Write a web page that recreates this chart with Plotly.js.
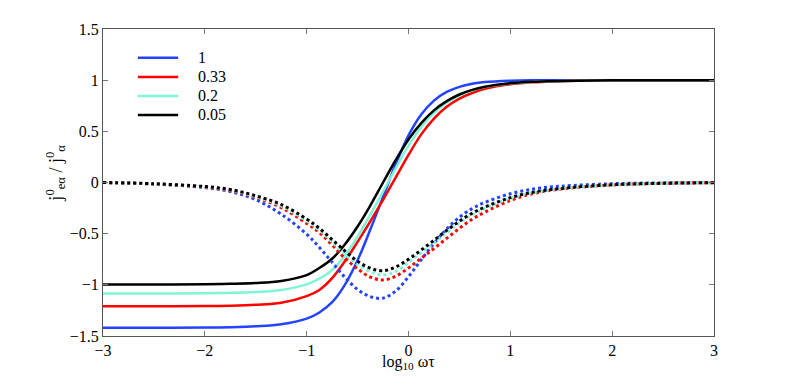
<!DOCTYPE html>
<html>
<head>
<meta charset="utf-8">
<script src="https://cdn.plot.ly/plotly-3.0.1.min.js"></script>
<style>
	body { margin: 0; background: #fff; }
	#chart { width: 789px; height: 378px; }
</style>
</head>
<body>
<div id="chart"></div>
<script>
// log10 of omega*tau, shared by every curve
var logWT = [ -3, -2.5, -2, -1.75, -1.5, -1.25, -1, -0.875, -0.75, -0.625, -0.5, -0.375, -0.25, -0.125,
	0, 0.125, 0.25, 0.375, 0.5, 0.625, 0.75, 1, 1.25, 1.5, 2, 2.5, 3 ];

// legend labels, same order as the series below
var ratios = [ "1", "0.33", "0.2", "0.05" ];

// solid curves
var solid1    = [ -1.42, -1.42, -1.418, -1.414, -1.405, -1.385, -1.33, -1.27, -1.17, -1.0, -0.76, -0.46, -0.14, 0.18,
	0.46, 0.665, 0.8, 0.885, 0.935, 0.965, 0.982, 0.995, 0.999, 1, 1, 1, 1 ];
var solid033  = [ -1.21, -1.21, -1.208, -1.204, -1.195, -1.175, -1.11, -1.05, -0.935, -0.77, -0.58, -0.38, -0.17, 0.05,
	0.27, 0.47, 0.625, 0.74, 0.82, 0.875, 0.915, 0.96, 0.98, 0.99, 0.998, 1, 1 ];
var solid02   = [ -1.084, -1.084, -1.082, -1.078, -1.07, -1.05, -0.995, -0.94, -0.855, -0.715, -0.53, -0.315, -0.09, 0.14,
	0.36, 0.54, 0.68, 0.78, 0.85, 0.9, 0.932, 0.968, 0.984, 0.992, 0.998, 1, 1 ];
var solid005  = [ -0.996, -0.996, -0.994, -0.99, -0.982, -0.962, -0.905, -0.835, -0.745, -0.605, -0.43, -0.225, 0.0, 0.22,
	0.42, 0.58, 0.705, 0.795, 0.86, 0.905, 0.935, 0.97, 0.985, 0.993, 0.998, 1, 1 ];

// dotted curves
var dotted1   = [ 0, -0.015, -0.05, -0.088, -0.168, -0.31, -0.505, -0.635, -0.78, -0.925, -1.045, -1.115, -1.13, -1.06,
	-0.92, -0.755, -0.595, -0.455, -0.34, -0.255, -0.195, -0.11, -0.06, -0.036, -0.012, -0.004, -0.001 ];
var dotted033 = [ 0, -0.014, -0.045, -0.077, -0.145, -0.245, -0.40, -0.49, -0.61, -0.74, -0.843, -0.925, -0.952, -0.915,
	-0.835, -0.74, -0.645, -0.545, -0.448, -0.36, -0.29, -0.175, -0.102, -0.063, -0.024, -0.008, -0.002 ];
var dotted02  = [ 0, -0.013, -0.042, -0.072, -0.138, -0.228, -0.375, -0.465, -0.58, -0.70, -0.80, -0.872, -0.903, -0.87,
	-0.78, -0.685, -0.59, -0.49, -0.395, -0.315, -0.252, -0.155, -0.094, -0.06, -0.023, -0.008, -0.002 ];
var dotted005 = [ 0, -0.012, -0.04, -0.068, -0.13, -0.215, -0.357, -0.448, -0.558, -0.668, -0.77, -0.838, -0.862, -0.825,
	-0.75, -0.66, -0.565, -0.468, -0.378, -0.30, -0.24, -0.148, -0.09, -0.058, -0.022, -0.008, -0.002 ];

var colors = [ "#2443ff", "#ff0000", "#7ff5d6", "#000000" ];
var solidSets  = [ solid1, solid033, solid02, solid005 ];
var dottedSets = [ dotted1, dotted033, dotted02, dotted005 ];

// a fresh font object each time
function serifFont( size )
{
	return { family: "Liberation Serif", size: size, color: "#000" };
}

var traces = [];
for( let i = 0; i < ratios.length; i++ )
	traces.push( { x: logWT, y: solidSets[ i ], name: ratios[ i ], mode: "lines", showlegend: false,
		line: { color: colors[ i ], width: 2.5, shape: "spline", smoothing: 1 } } );
for( let i = 0; i < ratios.length; i++ )
	traces.push( { x: logWT, y: dottedSets[ i ], name: ratios[ i ], mode: "lines", showlegend: false,
		line: { color: colors[ i ], width: 3, dash: "3px,3px", shape: "spline", smoothing: 1 } } );

// legend drawn by hand so the rows sit as tight as the original
var legendShapes = [], notes = [];
var legTop = 0.906, legStep = 0.062;
for( let i = 0; i < ratios.length; i++ )
{
	let yy = legTop - i * legStep;
	legendShapes.push( { type: "line", xref: "paper", yref: "paper", x0: 0.057, x1: 0.123, y0: yy, y1: yy,
		line: { color: colors[ i ], width: 2.5 } } );
	notes.push( { xref: "paper", yref: "paper", x: 0.152, y: yy, xanchor: "left", yanchor: "middle",
		text: ratios[ i ], showarrow: false, font: serifFont( 16 ) } );
}

// axis titles placed as notes, plotly's own spot sits a bit too far out
notes.push( { xref: "paper", yref: "paper", x: 0.5, y: -0.085, xanchor: "center", yanchor: "middle",
	text: "log<sub>10</sub> ωτ", showarrow: false, font: serifFont( 16 ) } );
notes.push( { xref: "paper", yref: "paper", x: -0.078, y: 0.53, xanchor: "center", yanchor: "middle", textangle: -90,
	text: "j<sup>0</sup><sub>eα</sub> / j<sup>0</sup><sub>α</sub>", showarrow: false, font: serifFont( 18 ) } );

var layout = {
	width: 789,
	height: 378,
	margin: { l: 103, r: 75, t: 29, b: 42 },
	paper_bgcolor: "#fff",
	plot_bgcolor: "#fff",
	font: serifFont( 16 ),
	showlegend: false,
	shapes: legendShapes,
	annotations: notes,
	xaxis: {
		range: [ -3, 3 ],
		dtick: 1,
		ticks: "inside",
		ticklen: 5,
		tickcolor: "#777",
		showgrid: false,
		zeroline: false,
		showline: true,
		linecolor: "#555",
		linewidth: 1,
		mirror: "ticks",
		tickfont: serifFont( 16 )
	},
	yaxis: {
		range: [ -1.5, 1.5 ],
		dtick: 0.5,
		ticks: "inside",
		ticklen: 5,
		tickcolor: "#777",
		showgrid: false,
		zeroline: false,
		showline: true,
		linecolor: "#555",
		linewidth: 1,
		mirror: "ticks",
		tickfont: serifFont( 16 )
	}
};

Plotly.newPlot( "chart", traces, layout, { staticPlot: true } );
</script>
</body>
</html>
